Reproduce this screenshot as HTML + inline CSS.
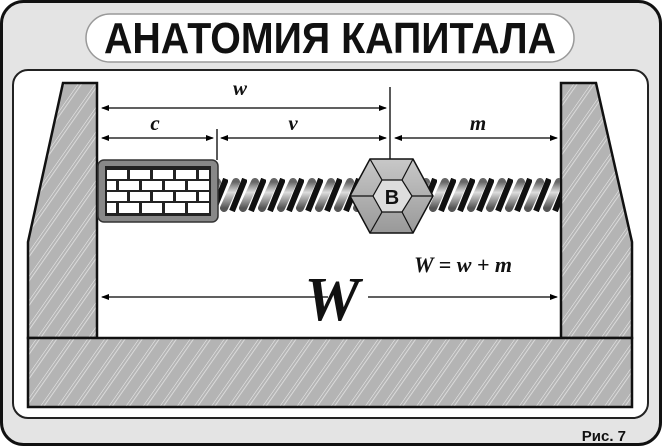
<!DOCTYPE html>
<html><head><meta charset="utf-8"><style>html,body{margin:0;padding:0;background:#fff}svg{display:block}</style></head><body>
<svg width="662" height="447" viewBox="0 0 662 447" xmlns="http://www.w3.org/2000/svg">
<defs>
<pattern id="h" patternUnits="userSpaceOnUse" width="14" height="14" patternTransform="rotate(35)">
<rect width="14" height="14" fill="#b4b4b4"/>
<line x1="0" y1="0" x2="0" y2="14" stroke="#eee" stroke-width="1"/>
<line x1="3" y1="0" x2="3" y2="14" stroke="#e4e4e4" stroke-width="0.8"/>
</pattern>
<linearGradient id="hg" x1="0" y1="0" x2="0" y2="1"><stop offset="0" stop-color="#c8c8c8"/><stop offset="1" stop-color="#999"/></linearGradient>
<linearGradient id="rg" x1="0" y1="0" x2="0" y2="1"><stop offset="0" stop-color="#666"/><stop offset="0.4" stop-color="#ddd"/><stop offset="1" stop-color="#555"/></linearGradient>
<pattern id="rope" patternUnits="userSpaceOnUse" width="19" height="34" x="0" y="178">
<path d="M-4,30 L8,4" stroke="url(#rg)" stroke-width="8" stroke-linecap="round"/>
<path d="M15,30 L27,4" stroke="url(#rg)" stroke-width="8" stroke-linecap="round"/>
<path d="M4,33 L17,1" stroke="#111" stroke-width="6"/>
</pattern>
<marker id="a" markerWidth="8" markerHeight="8" refX="7" refY="4" orient="auto" markerUnits="userSpaceOnUse"><path d="M0,1 L8,4 L0,7 Z" fill="#000"/></marker>
<marker id="b" markerWidth="8" markerHeight="8" refX="1" refY="4" orient="auto" markerUnits="userSpaceOnUse"><path d="M8,1 L0,4 L8,7 Z" fill="#000"/></marker>
</defs>
<rect x="1.5" y="1.5" width="659" height="443" rx="22" fill="#e4e4e4" stroke="#111" stroke-width="3"/>
<rect x="86" y="14" width="488" height="48" rx="24" fill="#fff" stroke="#999" stroke-width="1.5"/>
<text x="330" y="53" text-anchor="middle" textLength="452" lengthAdjust="spacingAndGlyphs" font-family="Liberation Sans, Noto Sans CJK SC, sans-serif" font-weight="bold" font-size="44" fill="#111">АНАТОМИЯ КАПИТАЛА</text>
<rect x="13" y="70" width="635" height="348" rx="15" fill="#fff" stroke="#222" stroke-width="2"/>
<polygon points="63,83 97,83 97,338 28,338 28,242" fill="url(#h)" stroke="#111" stroke-width="2.5"/>
<polygon points="561,83 596,83 632,242 632,338 561,338" fill="url(#h)" stroke="#111" stroke-width="2.5"/>
<rect x="28" y="338" width="604" height="69" fill="url(#h)" stroke="#111" stroke-width="2.5"/>
<g stroke="#000" stroke-width="1.3">
<line x1="102" y1="108" x2="386" y2="108" marker-end="url(#a)" marker-start="url(#b)"/>
<line x1="390" y1="87" x2="390" y2="160"/>
<line x1="217" y1="129" x2="217" y2="160"/>
<line x1="102" y1="138" x2="213" y2="138" marker-end="url(#a)" marker-start="url(#b)"/>
<line x1="221" y1="138" x2="386" y2="138" marker-end="url(#a)" marker-start="url(#b)"/>
<line x1="395" y1="138" x2="557" y2="138" marker-end="url(#a)" marker-start="url(#b)"/>
<line x1="102" y1="297" x2="328" y2="297" marker-start="url(#b)"/>
<line x1="368" y1="297" x2="557" y2="297" marker-end="url(#a)"/>
</g>
<g font-family="Liberation Serif, serif" font-style="italic" font-weight="bold" fill="#111">
<text x="240" y="95" font-size="21" text-anchor="middle">w</text>
<text x="155" y="130" font-size="21" text-anchor="middle">c</text>
<text x="293" y="130" font-size="21" text-anchor="middle">v</text>
<text x="478" y="130" font-size="21" text-anchor="middle">m</text>
<text x="414" y="272" font-size="22">W = w + m</text>
<text x="332" y="320" font-size="62" text-anchor="middle">W</text>
</g>
<rect x="218" y="178" width="342" height="34" fill="url(#rope)"/>
<rect x="98" y="160" width="120" height="62" rx="6" fill="#888" stroke="#333" stroke-width="1.5"/>
<rect x="105" y="166" width="106" height="50" fill="#222"/>
<g fill="#fff">
<rect x="107" y="170" width="20" height="9"/><rect x="130" y="170" width="20" height="9"/><rect x="153" y="170" width="20" height="9"/><rect x="176" y="170" width="20" height="9"/><rect x="199" y="170" width="10" height="9"/>
<rect x="107" y="181" width="9" height="9"/><rect x="119" y="181" width="20" height="9"/><rect x="142" y="181" width="20" height="9"/><rect x="165" y="181" width="20" height="9"/><rect x="188" y="181" width="21" height="9"/>
<rect x="107" y="192" width="20" height="9"/><rect x="130" y="192" width="20" height="9"/><rect x="153" y="192" width="20" height="9"/><rect x="176" y="192" width="20" height="9"/><rect x="199" y="192" width="10" height="9"/>
<rect x="107" y="203" width="9" height="10"/><rect x="119" y="203" width="20" height="10"/><rect x="142" y="203" width="20" height="10"/><rect x="165" y="203" width="20" height="10"/><rect x="188" y="203" width="21" height="10"/>
</g>
<polygon points="370,159 413,159 433,196 413,233 370,233 350,196" fill="url(#hg)" stroke="#111" stroke-width="1.5"/>
<g stroke="#111" stroke-width="1.2">
<line x1="370" y1="159" x2="382" y2="180"/><line x1="413" y1="159" x2="402" y2="180"/>
<line x1="433" y1="196" x2="412" y2="196"/><line x1="350" y1="196" x2="373" y2="196"/>
<line x1="370" y1="233" x2="382" y2="212"/><line x1="413" y1="233" x2="402" y2="212"/>
</g>
<polygon points="382,180 402,180 412,196 402,212 382,212 373,196" fill="#ddd" stroke="#111" stroke-width="1.2"/>
<text x="392" y="204" text-anchor="middle" font-family="Liberation Sans, sans-serif" font-weight="bold" font-size="20" fill="#111">B</text>
<text x="626" y="441" text-anchor="end" font-family="Liberation Sans, Noto Sans CJK SC, sans-serif" font-weight="bold" font-size="15" fill="#111">Рис. 7</text>
</svg>
</body></html>
